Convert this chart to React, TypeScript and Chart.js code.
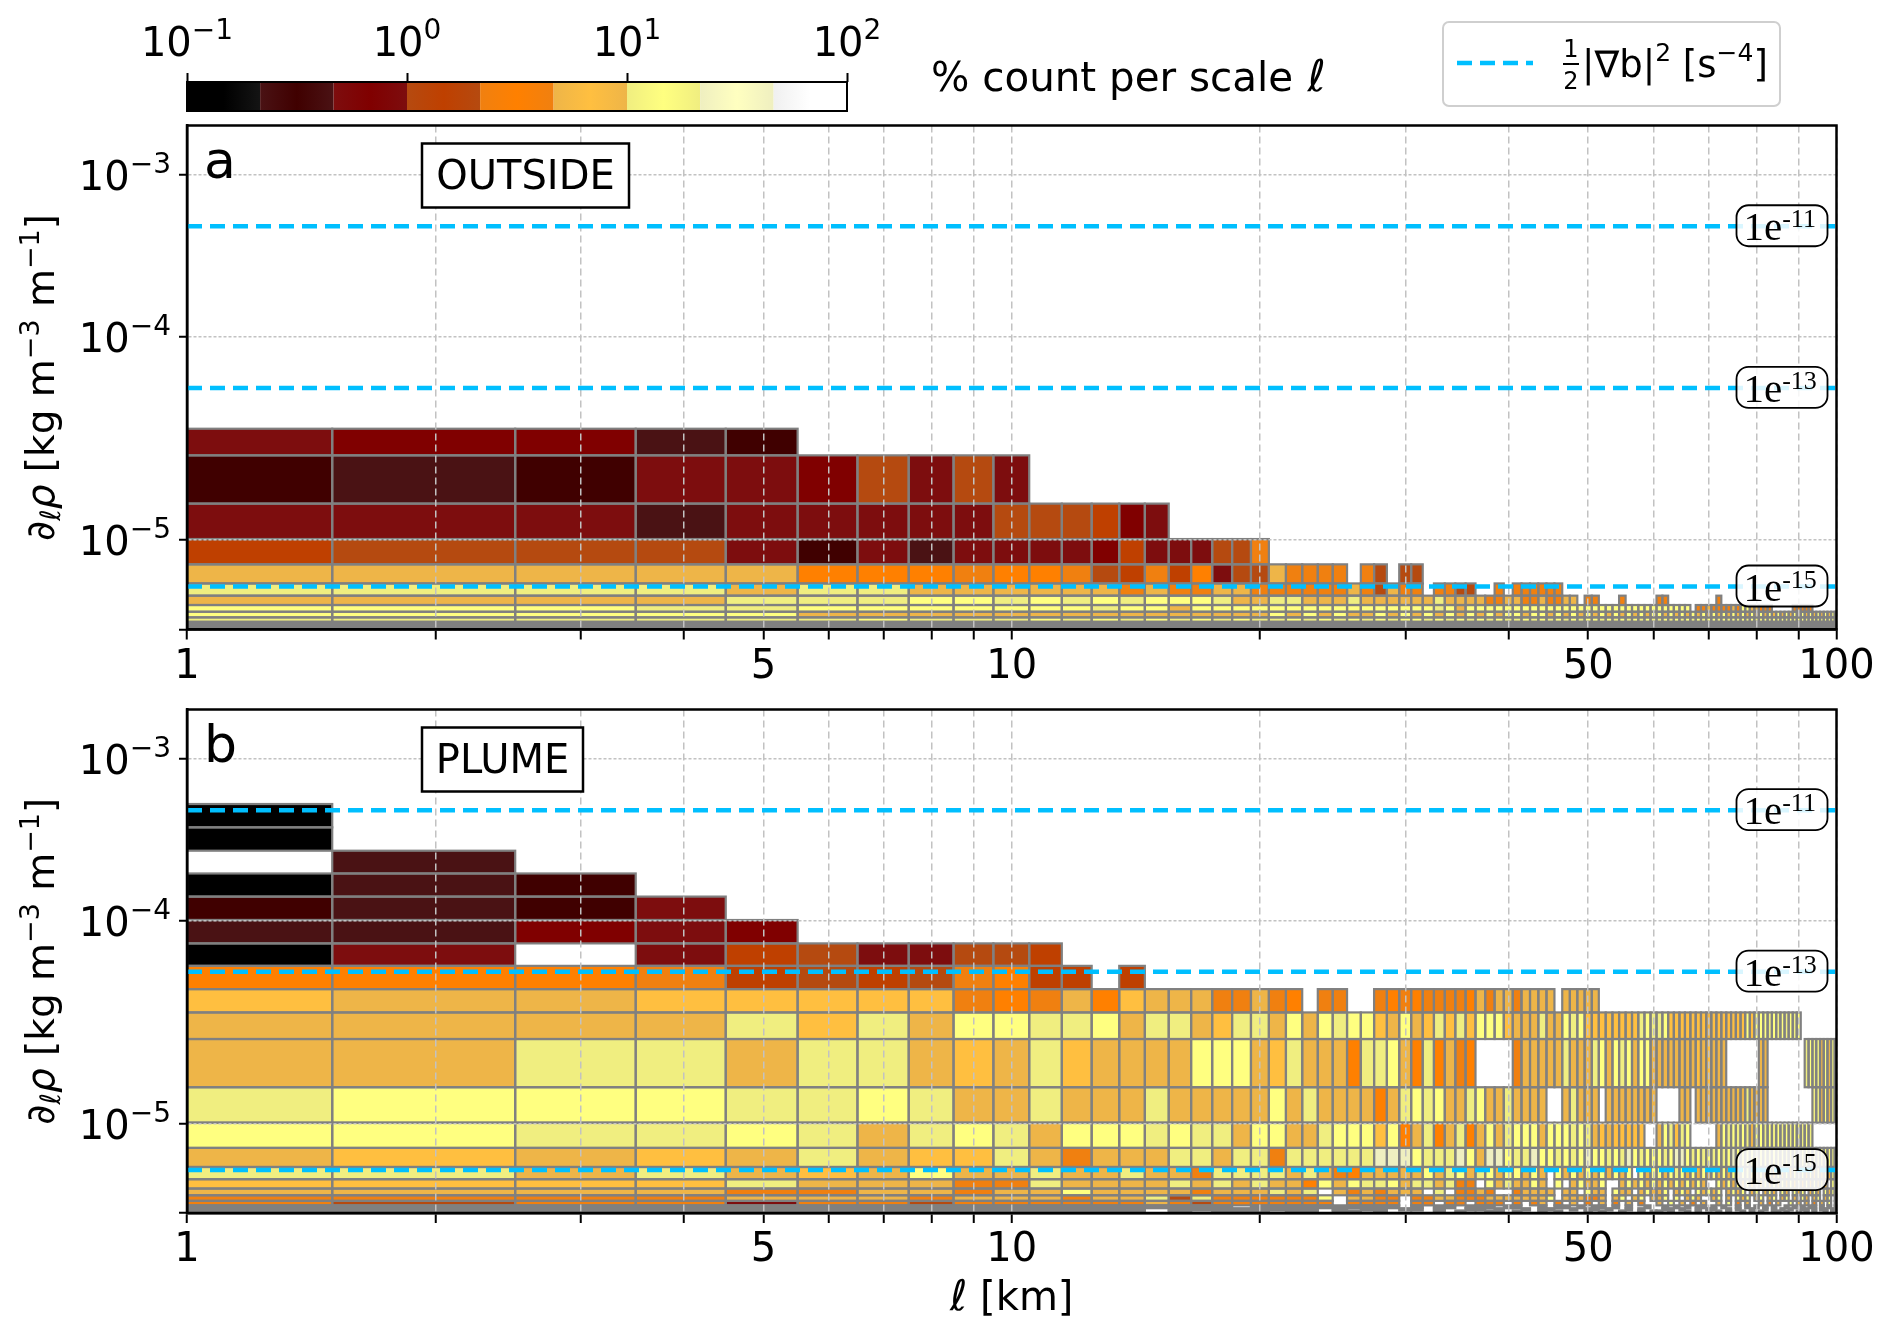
import React, { useEffect, useRef } from "react";
import { Chart, Scale, registerables } from "chart.js";

// one char per scale bin l = 1..100 km: 0-8 colour bin, a-i same bin with the muted tone,
// x cell too thin to show anything but its edge, "." no count
const outsideRows = [
  "", "", "", "", "", "", "", "", "",
  "c22b1",
  "1b1cc2dcdc",
  "cccbcccccd dd32c",
  "3dddc1cbcc cc23cccdde",
  "fffff444e4 4ed3e34cdd feeee.ed.d d",
  "ggggfggfff fffefeeffe eeeeefedfe e.eedd..e. eeeeee",
  "ffffggg66g 6g6g666gff ggfffgffff ffgffffeef feefeeff.e e...e..... ee........ .e........",
  "666gg66666 66g66f6666 6666666666 66g6f66666 6666666666 6666666666 666666.eef eeeefe66ff eee.....ee eee.......",
  "66666fffff ffffffffff 6f6f6ff6f6 f6f6f6f6f6 6f66f6f6f6 f6f6f6f6f6 6f6f6f6f6f 6f6f6f6f6f 6f6f6f6f6f 6f6f6f6f6f",
  "gggggg6ggg 6g6g6g6g6g g6g6g6g6g6 6g6g6g6g6g g6g6g6g6g6 6g6g6g6g6g g6g6g6g6g6 6g6g6g6g6g g6g6g6g6g6 6g6g6g6g6g",
  "xxxxxxxxxx xxxxxxxxxx xxxxxxxxxx xxxxxxxxxx xxxxxxxxxx xxxxxxxxxx xxxxxxxxxx xxxxxxxxxx xxxxxxxxxx xxxxxxxxxx",
  "xxxxxxxxxx xxxxxxxxxx xxxxxxxxxx xxxxxxxxxx xxxxxxxxxx xxxxxxxxxx xxxxxxxxxx xxxxxxxxxx xxxxxxxxxx xxxxxxxxxx",
  "xxxxxxxxxx xxxxxxxxxx xxxxxxxxxx xxxxxxxxxx xxxxxxxxxx xxxxxxxxxx xxxxxxxxxx xxxxxxxxxx xxxxxxxxxx xxxxxxxxxx",
];

const plumeRows = [
  "0",
  "0",
  ".b",
  "0b1",
  "1b1c",
  "bb2c2",
  "0c.c3dccdd 3",
  "444e3d3de4 33.3",
  "5ff55555e4 ef45fffeef e4.ee..e4e 4eeee4feff effff.ffff f",
  "ffffg5gf66 gg6fggf5gg f6f6g665f6 f5g5g56665 fffgff6g65 5555555g6g g65555555f 5555555656 66g6g6g6g6",
  "ffggfggf5f g5ffff666f 5gfff4gg6f 4g4fe4.... efffffgfff g6f6g6f66f fffffff5f5 fff....... ff........ .g6g6f6f6f",
  "g666gg6gff gfffgfffff 6fgffff4fg 6g6ffg6ffg ffff..fgff f.ffffffff ....ff.fff fffffffgff ff........ ...g6f6f6f",
  "66gg6gfg6g f666g6ggf6 6ffg666564 fg4fg4f6fg 666f666g6g f5f55555.. f6g5g6.... .f6g6g6gf6 6g6g6g6g6g g6g.......",
  "f5f5fgf55g fefffggfgg egggggghhh 6gggh6fhh6 ggh66g6g6h 66g6gh6g66 6g6hh6g6g6 g6g6h6g6g6 g6g6g6g6g6 g6g6g6g6g6",
  "ggfgf5f6ff gffgffeggg gfgfe4ffff f6fg6fg6f6 6f6f.6f6f6 f6f6f6.6f6 6f6g6f6f6f 6f6f6f6g6f 6f6f6f6f6f 6f6f6f6f6f",
  "5555gfffee gffffgfgfg ff46f6gg6f ggfgee.6fg ff6f.6.f6f f6..f6f6f6 f6f6f6f6f. .6f6f6f6f6 f6f6f6f6f6 f6f6f6f.6.",
  "ffffeeffef f6ffffefff gfg.fefeff f.g.eefe.. effff.ff.6 ff.6ff.f6f f6.f6f.6f6 f6.f6f6.f6 .f6f.6f.6f 6.f6f.6f6f",
  "eeeefffeff feffgdgeee eee6.ffee. eeffeeefff ffff6.fffe ef.f6.f6.f f6.6.f6f.. f6.f.6f6.f 6.f6.f6.f. 6f.f6.f6.f",
  "edeeceedee eeeefedeee eeee.eeee. ee.ee.eee. e.ef.e.f.e .f.e.f.e.. f.6.f.e.f. .f.6.e.f.. f.e.f..6.f .f.e.f.6.f",
  "xxxxxxxxxx xxxxxxxx.x xxxxxxxxx. x.xx.xxx.x x..x.xx.x. xx.x.x..x. .x.x.x.xx. x.x..x.x.x .x.x..x.x. x.xx.x.x.x",
  "xxxxxxxxxx xxxx.xxxxx xxx.x.xx.x x.x..xx.x. .x.xx..x.x x.x..x.x.. .xx.x..x.x x..x.x..x. .x.x.x.x.. xx.x.xx.x.",
  "xxxxxxxxxx xxxx.x.xxx .xx.xx.x.. ..x.x..xx. x..x.x...x .x..x..x.x x.x..x.x.. .x.x..x.x. x..xx.x..x .x.x..x.xx",
];

// density gradient bin edges, top row down, kg m-3 m-1
const densityEdges = [
  5.27e-4, 3.78e-4, 2.71e-4, 1.96e-4, 1.41e-4, 1.01e-4, 7.73e-5, 5.99e-5, 4.6e-5, 3.53e-5, 2.61e-5, 1.51e-5,
  1.01e-5, 6.71e-6, 4.91e-6, 4.02e-6, 3.45e-6, 3.09e-6, 2.82e-6, 2.62e-6, 2.5e-6, 2.41e-6, 2.31e-6,
];

const gradientLevels = [4.83e-4, 5.61e-5, 4.67e-6];
const gradientLabels = ["-11", "-13", "-15"];

const xTicks = [1, 2, 3, 4, 5, 6, 7, 8, 9, 10, 20, 30, 40, 50, 60, 70, 80, 90, 100];
const xLabelled = [1, 5, 10, 50, 100];
const yTicks = [1e-3, 1e-4, 1e-5, 2.31e-6];
const yLabelled = [1e-3, 1e-4, 1e-5];
const yExponents = ["−3", "−4", "−5"];

// the y axis is not a plain log axis, decades have unequal lengths
const axisLogs = [-2.693, -3, -4, -5, -5.636];
const axisFractions = [0, 0.0984, 0.4195, 0.8223, 1];

const colorTicks = [0.1, 1, 10, 100];
const colorExponents = ["−1", "0", "1", "2"];
const colorBinEdges = [0.1, 0.215, 0.464, 1, 2.15, 4.64, 10, 21.5, 46.4, 100];
const purePalette = ["#000000", "#400000", "#800000", "#bf4000", "#ff8000", "#ffbf40", "#ffff80", "#ffffc0", "#ffffff"];
const mutedPalette = ["#141414", "#4a1214", "#7d0d0e", "#b54a10", "#f08010", "#eeb548", "#f0ee80", "#efefc0", "#f0f0f0"];

const FONT = "'DejaVu Sans'";
const SERIF = "'Liberation Serif'";
const BLUE = "#00bfff";
const EDGE = "#808080";

function interp(v: number, xs: number[], ys: number[]) {
  for (let i = 0; i < xs.length - 1; i++) {
    const inside = xs[i] > xs[i + 1] ? v >= xs[i + 1] : v <= xs[i + 1];
    if (inside || i === xs.length - 2) {
      return ys[i] + ((v - xs[i]) / (xs[i + 1] - xs[i])) * (ys[i + 1] - ys[i]);
    }
  }
  return ys[0];
}

class WarpedLogScale extends Scale {
  static id = "warpedLog";
  static defaults = {};
  determineDataLimits() {
    this.min = Math.pow(10, axisLogs[axisLogs.length - 1]);
    this.max = Math.pow(10, axisLogs[0]);
  }
  buildTicks() {
    return yTicks.map((value) => ({ value }));
  }
  getLabelForValue(value: number) {
    return String(value);
  }
  getPixelForValue(value: number) {
    return this.top + interp(Math.log10(value), axisLogs, axisFractions) * this.height;
  }
  getValueForPixel(pixel: number) {
    return Math.pow(10, interp((pixel - this.top) / this.height, axisFractions, axisLogs));
  }
}

Chart.register(...registerables, WarpedLogScale);

function binEdge(j: number) {
  return j === 0 ? 1 : Math.min(j + 0.5, 100);
}

function cellColor(c: string) {
  if (c === "x") return EDGE;
  const d = "012345678".indexOf(c);
  return d >= 0 ? purePalette[d] : mutedPalette["abcdefghi".indexOf(c)];
}

type Run = { text: string; font: string; dy?: number };

function drawRuns(ctx: any, x: number, y: number, runs: Run[]) {
  let cx = x;
  for (const r of runs) {
    ctx.font = r.font;
    ctx.fillText(r.text, cx, y + (r.dy || 0));
    cx += ctx.measureText(r.text).width;
  }
  return cx;
}

function runsWidth(ctx: any, runs: Run[]) {
  let w = 0;
  for (const r of runs) {
    ctx.font = r.font;
    w += ctx.measureText(r.text).width;
  }
  return w;
}

function powerRuns(exponent: string): Run[] {
  return [
    { text: "10", font: `40px ${FONT}` },
    { text: exponent, font: `28px ${FONT}`, dy: -17 },
  ];
}

function roundBox(ctx: any, x: number, y: number, w: number, h: number, r: number) {
  ctx.beginPath();
  ctx.roundRect(x, y, w, h, r);
  ctx.fill();
  ctx.stroke();
}

const yTitleRuns: Run[] = [
  { text: "∂", font: `39px ${FONT}` },
  { text: "ℓ", font: `italic 28px ${FONT}`, dy: 6 },
  { text: "ρ", font: `italic 39px ${FONT}` },
  { text: " [kg m", font: `39px ${FONT}` },
  { text: "−3", font: `27px ${FONT}`, dy: -15 },
  { text: " m", font: `39px ${FONT}` },
  { text: "−1", font: `27px ${FONT}`, dy: -15 },
  { text: "]", font: `39px ${FONT}` },
];

function panelPlugin(rows: string[], letter: string, name: string, boxWidth: number, showXTitle: boolean) {
  return {
    id: "panel" + letter,
    beforeDraw(chart: any) {
      const { ctx, chartArea, scales } = chart;
      ctx.save();
      ctx.beginPath();
      ctx.rect(chartArea.left, chartArea.top, chartArea.width, chartArea.height);
      ctx.clip();
      const cells: number[][] = [];
      rows.forEach((row, i) => {
        const chars = row.replace(/ /g, "");
        const y0 = scales.y.getPixelForValue(densityEdges[i]);
        const y1 = scales.y.getPixelForValue(densityEdges[i + 1]);
        for (let j = 0; j < chars.length; j++) {
          if (chars[j] === ".") continue;
          const x0 = scales.x.getPixelForValue(binEdge(j));
          const x1 = scales.x.getPixelForValue(binEdge(j + 1));
          ctx.fillStyle = cellColor(chars[j]);
          ctx.fillRect(x0, y0, x1 - x0, y1 - y0);
          cells.push([x0, y0, x1 - x0, y1 - y0]);
        }
      });
      ctx.strokeStyle = EDGE;
      ctx.lineWidth = 2.2;
      for (const c of cells) ctx.strokeRect(c[0], c[1], c[2], c[3]);
      ctx.restore();
    },
    afterDraw(chart: any) {
      const { ctx, chartArea, scales } = chart;
      const { left, right, top, bottom, height } = chartArea;
      ctx.save();
      ctx.strokeStyle = "#000";
      ctx.lineWidth = 2.5;
      ctx.strokeRect(left, top, right - left, bottom - top);

      ctx.fillStyle = "#000";
      ctx.textBaseline = "alphabetic";
      ctx.textAlign = "left";
      ctx.font = `52px ${FONT}`;
      ctx.fillText(letter, left + 17, top + 52);

      yLabelled.forEach((value, i) => {
        const runs = powerRuns(yExponents[i]);
        drawRuns(ctx, 171 - runsWidth(ctx, runs), scales.y.getPixelForValue(value) + 15, runs);
      });

      // region name box
      ctx.fillStyle = "#fff";
      ctx.fillRect(left + 235, top + 18, boxWidth, 64);
      ctx.strokeRect(left + 235, top + 18, boxWidth, 64);
      ctx.fillStyle = "#000";
      ctx.font = `40px ${FONT}`;
      ctx.textAlign = "center";
      ctx.fillText(name, left + 235 + boxWidth / 2, top + 63);
      ctx.textAlign = "left";

      // level tags on the right end of the dashed lines
      gradientLevels.forEach((level, i) => {
        const y = scales.y.getPixelForValue(level);
        ctx.fillStyle = "rgba(255,255,255,0.85)";
        ctx.strokeStyle = "#000";
        ctx.lineWidth = 1.8;
        roundBox(ctx, right - 100, y - 21, 91, 41, 12);
        ctx.fillStyle = "#000";
        drawRuns(ctx, right - 93, y + 14, [
          { text: "1e", font: `41px ${SERIF}` },
          { text: gradientLabels[i], font: `26px ${SERIF}`, dy: -13 },
        ]);
      });

      // y title
      const w = runsWidth(ctx, yTitleRuns);
      ctx.translate(54, top + height * 0.5);
      ctx.rotate(-Math.PI / 2);
      drawRuns(ctx, -w / 2, 0, yTitleRuns);
      ctx.restore();

      if (showXTitle) {
        ctx.save();
        ctx.fillStyle = "#000";
        const runs: Run[] = [
          { text: "ℓ", font: `italic 42px ${FONT}` },
          { text: " [km]", font: `40px ${FONT}` },
        ];
        const tw = runsWidth(ctx, runs);
        drawRuns(ctx, scales.x.getPixelForValue(10) - tw / 2, bottom + 97, runs);
        ctx.restore();
      }
    },
  };
}

function panelConfig(rows: string[], letter: string, name: string, boxWidth: number, top: number, xHeight: number, showXTitle: boolean): any {
  return {
    type: "scatter",
    data: {
      datasets: gradientLevels.map((level) => ({
        data: [
          { x: 1, y: level },
          { x: 100, y: level },
        ],
        showLine: true,
        borderColor: BLUE,
        borderWidth: 4.5,
        borderDash: [15, 8],
        pointRadius: 0,
      })),
    },
    options: {
      animation: false,
      responsive: false,
      devicePixelRatio: 1,
      layout: { padding: { top, right: 55.5, left: 0, bottom: 0 } },
      plugins: { legend: { display: false }, tooltip: { enabled: false } },
      scales: {
        x: {
          type: "logarithmic",
          min: 1,
          max: 100,
          afterBuildTicks: (axis: any) => {
            axis.ticks = xTicks.map((value) => ({ value }));
          },
          afterFit: (axis: any) => {
            axis.height = xHeight;
          },
          ticks: {
            autoSkip: false,
            maxRotation: 0,
            minRotation: 0,
            padding: 4,
            color: "#000",
            font: { family: "DejaVu Sans", size: 40 },
            callback: (value: number) => (xLabelled.includes(value) ? String(value) : ""),
          },
          grid: { color: "#c2c2c2", lineWidth: 1.5, tickColor: "#000", tickWidth: 2, tickLength: 10, tickBorderDash: [] },
          border: { display: true, color: "#000", width: 2.5, dash: [7, 4] },
        },
        y: {
          type: "warpedLog",
          position: "left",
          afterFit: (axis: any) => {
            axis.width = 187;
          },
          ticks: {
            autoSkip: false,
            display: true,
            font: { size: 10 },
            callback: () => "",
          },
          grid: { color: "#c2c2c2", lineWidth: 1.5, tickColor: "#000", tickWidth: 2, tickLength: 8, tickBorderDash: [] },
          border: { display: true, color: "#000", width: 2.5, dash: [3, 2] },
        },
      },
    },
    plugins: [panelPlugin(rows, letter, name, boxWidth, showXTitle)],
  };
}

const colorbarPlugin = {
  id: "colorbar",
  afterDraw(chart: any) {
    const { ctx, chartArea, scales } = chart;
    const { left, right, top, bottom } = chartArea;
    ctx.save();
    purePalette.forEach((pure, i) => {
      const x0 = scales.x.getPixelForValue(colorBinEdges[i]);
      const x1 = scales.x.getPixelForValue(colorBinEdges[i + 1]);
      const g = ctx.createLinearGradient(x0, 0, x1, 0);
      if (i === 0) {
        g.addColorStop(0, pure);
        g.addColorStop(0.5, pure);
        g.addColorStop(1, mutedPalette[0]);
      } else if (i === purePalette.length - 1) {
        g.addColorStop(0, mutedPalette[i]);
        g.addColorStop(0.5, pure);
        g.addColorStop(1, pure);
      } else {
        g.addColorStop(0, mutedPalette[i]);
        g.addColorStop(0.5, pure);
        g.addColorStop(1, mutedPalette[i]);
      }
      ctx.fillStyle = g;
      ctx.fillRect(x0, top, x1 - x0, bottom - top);
    });
    ctx.strokeStyle = "#000";
    ctx.lineWidth = 2;
    ctx.strokeRect(left, top, right - left, bottom - top);

    ctx.fillStyle = "#000";
    ctx.textBaseline = "alphabetic";
    colorTicks.forEach((value, i) => {
      const runs = powerRuns(colorExponents[i]);
      drawRuns(ctx, scales.x.getPixelForValue(value) - runsWidth(ctx, runs) / 2, 56, runs);
    });

    const end = drawRuns(ctx, 931, 91, [{ text: "% count per scale ", font: `40.4px ${FONT}` }]);
    drawRuns(ctx, end + 2, 91, [{ text: "ℓ", font: `italic 44px ${FONT}` }]);

    // legend
    ctx.fillStyle = "#fff";
    ctx.strokeStyle = "#cfcfcf";
    ctx.lineWidth = 2;
    roundBox(ctx, 1443, 22, 337, 84, 6);
    ctx.strokeStyle = BLUE;
    ctx.lineWidth = 4.5;
    ctx.setLineDash([15, 8]);
    ctx.beginPath();
    ctx.moveTo(1457, 63);
    ctx.lineTo(1533, 63);
    ctx.stroke();
    ctx.setLineDash([]);
    ctx.fillStyle = "#000";
    ctx.font = `24px ${FONT}`;
    ctx.textAlign = "center";
    ctx.fillText("1", 1571, 57);
    ctx.fillText("2", 1571, 89);
    ctx.fillRect(1563, 63, 16, 2);
    ctx.textAlign = "left";
    drawRuns(ctx, 1582, 77, [
      { text: "|∇b|", font: `37px ${FONT}` },
      { text: "2", font: `25px ${FONT}`, dy: -16 },
      { text: " [s", font: `37px ${FONT}` },
      { text: "−4", font: `25px ${FONT}`, dy: -16 },
      { text: "]", font: `37px ${FONT}` },
    ]);
    ctx.restore();
  },
};

const colorbarConfig: any = {
  type: "scatter",
  data: { datasets: [] },
  options: {
    animation: false,
    responsive: false,
    devicePixelRatio: 1,
    layout: { padding: { top: 0, left: 187, right: 1045, bottom: 14 } },
    plugins: { legend: { display: false }, tooltip: { enabled: false } },
    scales: {
      x: {
        type: "logarithmic",
        position: "top",
        min: 0.1,
        max: 100,
        afterBuildTicks: (axis: any) => {
          axis.ticks = colorTicks.map((value) => ({ value }));
        },
        afterFit: (axis: any) => {
          axis.height = 82;
        },
        ticks: {
          autoSkip: false,
          maxRotation: 0,
          minRotation: 0,
          font: { size: 10 },
          callback: () => "",
        },
        grid: { drawOnChartArea: false, tickColor: "#000", tickWidth: 2, tickLength: 9 },
        border: { display: false },
      },
      y: { display: false, min: 0, max: 1 },
    },
  },
  plugins: [colorbarPlugin],
};

export default function App() {
  const barRef = useRef<HTMLCanvasElement>(null);
  const outsideRef = useRef<HTMLCanvasElement>(null);
  const plumeRef = useRef<HTMLCanvasElement>(null);

  useEffect(() => {
    const charts = [
      new Chart(barRef.current as any, colorbarConfig),
      new Chart(outsideRef.current as any, panelConfig(outsideRows, "a", "OUTSIDE", 207, 45.5, 70.5, false)),
      new Chart(plumeRef.current as any, panelConfig(plumeRows, "b", "PLUME", 161, 49.5, 123, true)),
    ];
    return () => charts.forEach((c) => c.destroy());
  }, []);

  const abs = (top: number): React.CSSProperties => ({ position: "absolute", left: 0, top, display: "block", filter: "blur(0.5px)" });

  return (
    <div style={{ position: "absolute", left: 0, top: 0, width: 1892, height: 1336, background: "#fff" }}>
      <canvas ref={barRef} width={1892} height={125} style={abs(0)} />
      <canvas ref={outsideRef} width={1892} height={620} style={abs(80)} />
      <canvas ref={plumeRef} width={1892} height={676} style={abs(660)} />
    </div>
  );
}
